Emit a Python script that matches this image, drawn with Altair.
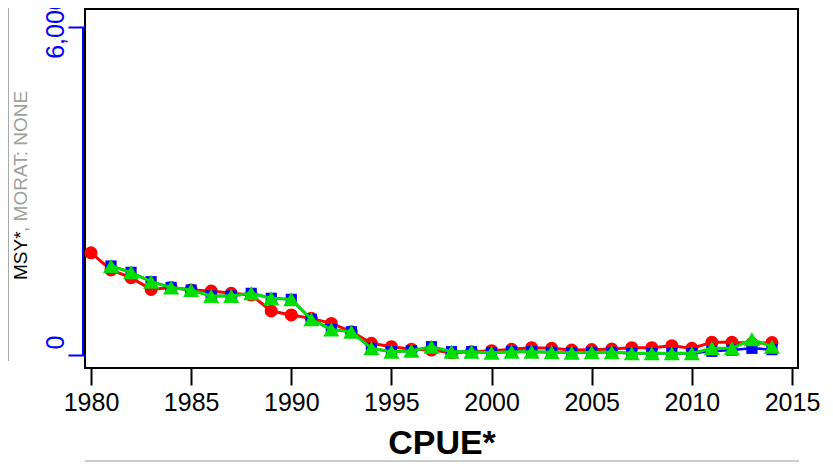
import altair as alt
import pandas as pd

# ---- data ----
years_red = list(range(1980, 2015))
red_vals = [1870, 1555, 1414, 1200, 1236, 1189, 1170, 1128, 1097, 805,
            732, 670, 578, 426, 214, 152, 104, 91, 40, 61,
            79, 104, 134, 122, 91, 98, 110, 134, 134, 171,
            122, 232, 232, 214, 226]

years_gb = list(range(1981, 2015))
green_vals = [1628, 1512, 1341, 1236, 1189, 1080, 1080, 1128, 1037, 1018,
              652, 468, 426, 122, 61, 79, 152, 61, 61, 43,
              61, 61, 49, 43, 49, 49, 30, 30, 30, 30,
              122, 122, 287, 152]
blue_vals = [1628, 1512, 1341, 1236, 1189, 1080, 1080, 1128, 1037, 1018,
             652, 468, 426, 122, 61, 79, 152, 61, 61, 43,
             61, 61, 49, 43, 49, 49, 30, 30, 30, 30,
             67, 90, 122, 98]

x_ticks = [1980, 1985, 1990, 1995, 2000, 2005, 2010, 2015]
y_ticks = [0, 6000]

x_title = "CPUE*"
side_black = "MSY*"
side_gray = ", MORAT: NONE"

# ---- layout ----
W, H = 713, 359
XDOM = [1979.70, 2015.30]
YDOM = [-237.8, 6329.3]

red_df = pd.DataFrame({"year": years_red, "v": red_vals})
green_df = pd.DataFrame({"year": years_gb, "v": green_vals})
blue_df = pd.DataFrame({"year": years_gb, "v": blue_vals})

x_axis = alt.Axis(values=x_ticks, format="d", domain=False, grid=False,
                  tickSize=17, tickWidth=2, tickColor="black",
                  labelFont="Liberation Sans", labelFontSize=25, labelColor="black",
                  labelPadding=5, labelFlush=False, labelOverlap=False,
                  title=x_title, titleFont="Liberation Sans", titleFontSize=34,
                  titleFontWeight="bold", titleColor="black",
                  titleBaseline="top", titleY=58)
y_axis = alt.Axis(values=y_ticks, format=",.0f", domain=False, grid=False,
                  tickSize=17, tickWidth=2, tickColor="blue",
                  labelFont="Liberation Sans", labelFontSize=25, labelColor="blue",
                  labelAngle=270, labelAlign="center", labelBaseline="alphabetic",
                  labelOffset={"condition": {"test": "datum.value == 0", "value": -13},
                               "value": 0},
                  labelPadding=5, labelFlush=False, labelOverlap=False, title=None)

xs = alt.Scale(domain=XDOM, nice=False, zero=False)
ys = alt.Scale(domain=YDOM, nice=False, zero=False)


def X():
    return alt.X("year:Q", scale=xs, axis=x_axis)


def Y():
    return alt.Y("v:Q", scale=ys, axis=y_axis)


def series(df, color, shape, size, width):
    line = alt.Chart(df).mark_line(color=color, strokeWidth=width).encode(x=X(), y=Y())
    pts = alt.Chart(df).mark_point(color=color, filled=True, opacity=1, shape=shape,
                                   size=size).encode(x=X(), y=Y())
    return [line, pts]


layers = []
layers += series(red_df, "#ff0000", "circle", 170, 3)
layers += series(blue_df, "#0000ff", "square", 125, 2.5)
layers += series(green_df, "#00dd00", "triangle-up", 260, 3)

# blue y-axis line spanning the tick range
axis_df = pd.DataFrame({"y0": [y_ticks[0]], "y1": [y_ticks[-1]]})
blue_axis = alt.Chart(axis_df).mark_rule(color="blue", strokeWidth=2).encode(
    x=alt.value(-2), y=alt.Y("y0:Q", scale=ys, axis=y_axis), y2="y1:Q")

one = pd.DataFrame({"k": [0]})
gray_v = alt.Chart(one).mark_rule(color="#a8a8a8", strokeWidth=1).encode(
    x=alt.value(-76.5), y=alt.value(-2), y2=alt.value(352))
gray_h = alt.Chart(one).mark_rule(color="#cccccc", strokeWidth=2).encode(
    x=alt.value(0), x2=alt.value(W + 1), y=alt.value(H + 93))

txt_black = alt.Chart(one).mark_text(
    text=side_black, angle=270, align="left", baseline="alphabetic",
    font="Liberation Sans", fontSize=19, color="black").encode(
    x=alt.value(-58), y=alt.value(271))
txt_gray = alt.Chart(one).mark_text(
    text=side_gray, angle=270, align="left", baseline="alphabetic",
    font="Liberation Sans", fontSize=19, color="#a0a0a0").encode(
    x=alt.value(-58), y=alt.value(223))

chart = alt.layer(blue_axis, *layers, gray_v, gray_h, txt_black, txt_gray).properties(
    width=W, height=H,
    autosize=alt.AutoSizeParams(type="none"),
    padding={"left": 77, "top": 1, "right": 27, "bottom": 94},
).configure(background="white").configure_view(stroke="black", strokeWidth=2)

chart.save("out.html", embed_options={"renderer": "svg", "actions": False})
